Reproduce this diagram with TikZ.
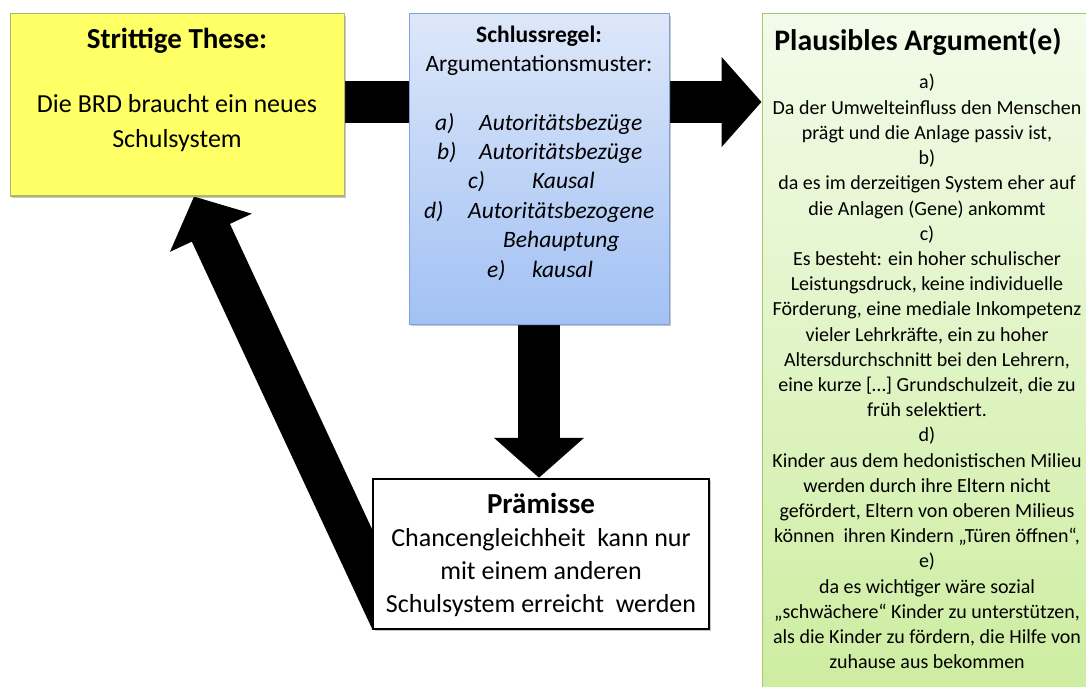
\documentclass[tikz,border=0pt]{standalone}
\usepackage{fontspec}
\setmainfont{Carlito}
\usetikzlibrary{arrows.meta,backgrounds,shadows}

\definecolor{theseFill}{HTML}{FFFF66}
\definecolor{theseLine}{HTML}{A9B86C}
\definecolor{ruleTop}{HTML}{DDE7F9}
\definecolor{ruleBot}{HTML}{A2C1F4}
\definecolor{ruleLine}{HTML}{7EA1D8}
\definecolor{argTop}{HTML}{F3FBEA}
\definecolor{argBot}{HTML}{CDEDA0}
\definecolor{argLine}{HTML}{A3C96C}

\begin{document}
\begin{tikzpicture}[x=1pt,y=-1pt,
  box/.style={rectangle, inner sep=0pt, line width=1pt},
  boxshadow/.style={drop shadow={shadow xshift=2pt, shadow yshift=-2pt, opacity=0.3, fill=black!70}},
  bigarrow/.style={line width=42pt, black, -{Triangle[length=40pt 0 0, width=88pt 0 0]}},
  txt/.style={inner sep=0pt, text=black},
  title/.style={txt, font=\bfseries\fontsize{29}{35}\selectfont, anchor=base},
  body/.style={txt, font=\fontsize{26}{35}\selectfont, anchor=base},
  rulebold/.style={txt, font=\bfseries\fontsize{23.5}{29}\selectfont, anchor=base},
  ruletext/.style={txt, font=\fontsize{23.5}{29}\selectfont, anchor=base},
  ruleitem/.style={txt, font=\itshape\fontsize{23.5}{29}\selectfont, anchor=base west},
  argfont/.style={txt, font=\fontsize{20}{25}\selectfont, anchor=base},
]
\useasboundingbox (0,0) rectangle (1086,687);

% boxes
\node[box, draw=theseLine, fill=theseFill, boxshadow,
      minimum width=334pt, minimum height=182pt] (these) at (177,105) {};
\node[box, draw=ruleLine, top color=ruleTop, bottom color=ruleBot, boxshadow,
      minimum width=260pt, minimum height=310pt] (rule) at (539,169) {};
\node[box, draw=argLine, top color=argTop, bottom color=argBot, boxshadow,
      minimum width=330pt, minimum height=681pt] (arg) at (927,354.5) {};
\node[box, draw=black, fill=white, line width=2.5pt, boxshadow,
      minimum width=336pt, minimum height=150pt] (prem) at (541,554) {};

% claim
\node[title] (theseTitle) at (177,49) {Strittige These:};
\node[body] (theseL1) at (177,113) {Die BRD braucht ein neues};
\node[body] (theseL2) at (177,148) {Schulsystem};

% warrant
\node[rulebold] (ruleTitle) at (539,43) {Schlussregel:};
\node[ruletext] (ruleSub) at (539,72) {Argumentationsmuster:};
\foreach \lx/\tx/\yy/\lab/\word [count=\i] in
  {435/479/130.2/a)/Autoritätsbezüge,
   437/479/159.6/b)/Autoritätsbezüge,
   468/532/189/c)/Kausal,
   424/468/218.4/d)/Autoritätsbezogene,
   487/532/277.2/e)/kausal}
{
  \node[ruleitem] (ruleLab-\i) at (\lx,\yy) {\lab};
  \node[ruleitem] (ruleItem-\i) at (\tx,\yy) {\word};
}
\node[ruleitem] (ruleItem-d2) at (503,247.8) {Behauptung};

% arguments
\node[title, font=\bfseries\fontsize{29.8}{35}\selectfont] (argTitle) at (918,51) {Plausibles Argument(e)};
\foreach \t [count=\i] in
  {{a)},
   {Da der Umwelteinfluss den Menschen},
   {prägt und die Anlage passiv ist,},
   {b)},
   {da es im derzeitigen System eher auf},
   {die Anlagen (Gene) ankommt},
   {c)},
   {Es besteht: ein hoher schulischer},
   {Leistungsdruck, keine individuelle},
   {Förderung, eine mediale Inkompetenz},
   {vieler Lehrkräfte, ein zu hoher},
   {Altersdurchschnitt bei den Lehrern,},
   {eine kurze […] Grundschulzeit, die zu},
   {früh selektiert.},
   {d)},
   {Kinder aus dem hedonistischen Milieu},
   {werden durch ihre Eltern nicht},
   {gefördert, Eltern von oberen Milieus},
   {können \ ihren Kindern „Türen öffnen“,},
   {e)},
   {da es wichtiger wäre sozial},
   {„schwächere“ Kinder zu unterstützen,},
   {als die Kinder zu fördern, die Hilfe von},
   {zuhause aus bekommen}}
{
  \node[argfont] (argLine-\i) at (927,{89+25.2*(\i-1)}) {\t};
}

% premise
\node[title] (premTitle) at (541,513) {Prämisse};
\node[body] (premL1) at (541,546) {Chancengleichheit \ kann nur};
\node[body] (premL2) at (541,579) {mit einem anderen};
\node[body] (premL3) at (541,612) {Schulsystem erreicht \ werden};

% connectors behind the boxes
\begin{scope}[on background layer]
  \fill[white] (0,0) rectangle (1086,687);
  \coordinate (claimOut) at ([yshift=3pt]these.east);
  \coordinate (argIn) at (claimOut -| arg.west);
  \draw[bigarrow] (claimOut) -- (argIn);
  \draw[bigarrow] (rule.south) -- (rule.south |- prem.north);
  \begin{scope}
    \clip (0,0) rectangle ([yshift=-100pt]prem.south west);
    \coordinate (premOut) at ([shift={(27,6)}]prem.south west);
    \coordinate (claimIn) at ([xshift=17pt]these.south);
    \draw[bigarrow] (premOut) -- (claimIn);
  \end{scope}
\end{scope}
\end{tikzpicture}
\end{document}
